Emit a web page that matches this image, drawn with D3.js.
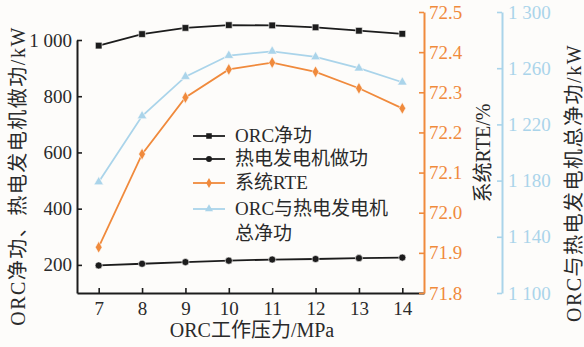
<!DOCTYPE html>
<html>
<head>
<meta charset="utf-8">
<script src="https://cdn.jsdelivr.net/npm/d3@7"></script>
<style>
  html, body { margin: 0; padding: 0; background: #fdfcfa; }
  svg { display: block; }
  text { font-family: "Liberation Serif", "Noto Sans CJK SC", serif; }
</style>
</head>
<body>
<svg id="chart" width="584" height="347"></svg>
<script>
// ORC working pressure (MPa)
const pressure = [7, 8, 9, 10, 11, 12, 13, 14];
// ORC net work (kW)
const orcNet = [980, 1021, 1043, 1053, 1052, 1045, 1033, 1022];
// Thermoelectric generator work (kW)
const tegWork = [198, 204, 210, 215, 219, 221, 224, 226];
// System round-trip efficiency (%)
const rte = [71.914, 72.146, 72.287, 72.357, 72.374, 72.351, 72.310, 72.260];
// Combined ORC + TEG net work (kW)
const totalNet = [1179, 1226, 1254, 1269, 1272, 1268, 1260, 1250];

const leftTicks = [200, 400, 600, 800, 1000];
const rteTicks = [71.8, 71.9, 72.0, 72.1, 72.2, 72.3, 72.4, 72.5];
const totalTicks = [1100, 1140, 1180, 1220, 1260, 1300];

const legendItems = [
  { name: ["ORC净功"], key: "net" },
  { name: ["热电发电机做功"], key: "teg" },
  { name: ["系统RTE"], key: "rte" },
  { name: ["ORC与热电发电机", "总净功"], key: "total" }
];

const BLACK = "#1c1c1c";
const ORANGE = "#f08a3c";
const BLUE = "#aad4ea";
const TEXT = "#2a2a2a";
const FS = 19;

const svg = d3.select("#chart");

const x = d3.scaleLinear().domain([6.5, 14.5]).range([77, 424]);
const yLeft = d3.scaleLinear().domain([100, 1000]).range([293, 40]);
const yRte = d3.scaleLinear().domain([71.8, 72.5]).range([293, 12]);
const yTotal = d3.scaleLinear().domain([1100, 1300]).range([293, 12]);

const fmtSpace = d => d3.format(",")(d).replace(/,/g, " ");

function styleAxis(g, color) {
  g.select(".domain").attr("stroke", color).attr("stroke-width", 2);
  g.selectAll(".tick line").attr("stroke", color).attr("stroke-width", 1.6);
  g.selectAll(".tick text").attr("fill", color).attr("font-size", FS)
    .attr("font-family", "Liberation Serif, serif");
}

// bottom axis
const gx = svg.append("g").attr("transform", "translate(0,293)")
  .call(d3.axisBottom(x).tickValues(pressure).tickSizeInner(-5).tickSizeOuter(0).tickPadding(8.5));
styleAxis(gx, BLACK);
gx.selectAll(".tick text").attr("fill", TEXT);

// left axis
const gl = svg.append("g").attr("transform", "translate(77,0)")
  .call(d3.axisLeft(yLeft).tickValues(leftTicks).tickFormat(fmtSpace).tickSizeInner(-5).tickSizeOuter(0).tickPadding(5));
styleAxis(gl, BLACK);
gl.selectAll(".tick text").attr("fill", TEXT);

// RTE axis
const gr = svg.append("g").attr("transform", "translate(424,0)")
  .call(d3.axisRight(yRte).tickValues(rteTicks).tickFormat(d3.format(".1f")).tickSizeInner(-5).tickSizeOuter(0).tickPadding(5));
styleAxis(gr, ORANGE);

// total net work axis
const gt = svg.append("g").attr("transform", "translate(502,0)")
  .call(d3.axisRight(yTotal).tickValues(totalTicks).tickFormat(fmtSpace).tickSizeInner(-5).tickSizeOuter(0).tickPadding(6));
styleAxis(gt, BLUE);

// axis titles
svg.append("text").attr("x", 252).attr("y", 337).attr("text-anchor", "middle")
  .attr("font-size", 20).attr("fill", TEXT).text("ORC工作压力/MPa");

svg.append("text").attr("transform", "translate(18,176) rotate(-90)")
  .attr("text-anchor", "middle").attr("dy", "0.35em").attr("letter-spacing", 1.5)
  .attr("font-size", 20).attr("fill", TEXT).text("ORC净功、热电发电机做功/kW");

svg.append("text").attr("transform", "translate(483,153) rotate(-90)")
  .attr("text-anchor", "middle").attr("dy", "0.35em")
  .attr("font-size", 20).attr("fill", TEXT).text("系统RTE/%");

svg.append("text").attr("transform", "translate(574,183) rotate(-90)")
  .attr("text-anchor", "middle").attr("dy", "0.35em").attr("letter-spacing", 1.5)
  .attr("font-size", 20).attr("fill", TEXT).text("ORC与热电发电机总净功/kW");

// series
const series = [
  { key: "total", values: totalNet, y: yTotal, color: BLUE, symbol: d3.symbolTriangle, size: 40 },
  { key: "rte", values: rte, y: yRte, color: ORANGE, symbol: d3.symbolDiamond, size: 40 },
  { key: "teg", values: tegWork, y: yLeft, color: BLACK, symbol: d3.symbolCircle, size: 40 },
  { key: "net", values: orcNet, y: yLeft, color: BLACK, symbol: d3.symbolSquare, size: 44 }
];
const byKey = {};
series.forEach(s => byKey[s.key] = s);

series.forEach(s => {
  const line = d3.line().x((d, i) => x(pressure[i])).y(d => s.y(d));
  svg.append("path").datum(s.values).attr("d", line)
    .attr("fill", "none").attr("stroke", s.color).attr("stroke-width", 1.8);
  svg.append("g").selectAll("path").data(s.values).join("path")
    .attr("transform", (d, i) => `translate(${x(pressure[i])},${s.y(d)})`)
    .attr("d", d3.symbol().type(s.symbol).size(s.size))
    .attr("fill", s.color).attr("stroke", "#fdfcfa").attr("stroke-width", 0.6);
});

// legend
const rowY = [136, 159, 183, 209];
const lg = svg.append("g");
legendItems.forEach((item, i) => {
  const s = byKey[item.key];
  const yy = rowY[i];
  lg.append("line").attr("x1", 193).attr("x2", 225).attr("y1", yy).attr("y2", yy)
    .attr("stroke", s.color).attr("stroke-width", 1.8);
  lg.append("path").attr("transform", `translate(209,${yy})`)
    .attr("d", d3.symbol().type(s.symbol).size(s.size * 0.7)).attr("fill", s.color);
  item.name.forEach((t, j) => {
    lg.append("text").attr("x", 235).attr("y", yy + 6 + j * 25)
      .attr("font-size", FS).attr("fill", TEXT).text(t);
  });
});
</script>
</body>
</html>
